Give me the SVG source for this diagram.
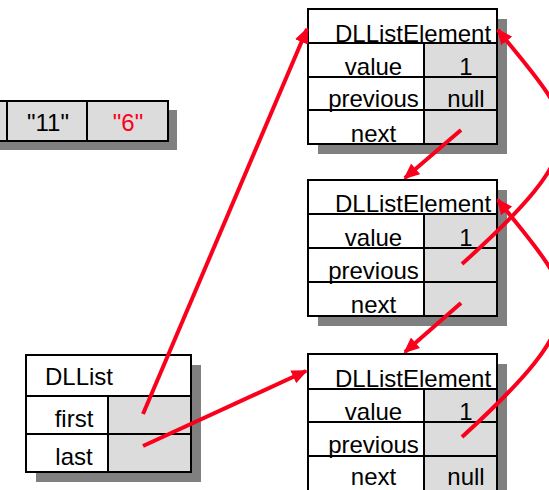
<svg xmlns="http://www.w3.org/2000/svg" width="549" height="490" viewBox="0 0 549 490">
  <style>
    .box{fill:#fff;stroke:#000;stroke-width:2}
    .cell{fill:#dcdcdc;stroke:#000;stroke-width:2}
    .shadow{fill:#808080}
    text{font-family:"Liberation Sans",Arial,Helvetica,sans-serif;font-size:24px;fill:#000}
    .mid{text-anchor:middle}
    .link{stroke:#fa001c;stroke-width:4;fill:none;marker-end:url(#head)}
  </style>
  <defs>
    <marker id="head" markerUnits="userSpaceOnUse" viewBox="0 0 16 14" markerWidth="16" markerHeight="14" refX="14" refY="7" orient="auto">
      <path d="M0,0 L16,7 L0,14 Z" fill="#fa001c"/>
    </marker>
  </defs>

  <!-- array fragment -->
  <g id="array">
    <rect class="shadow" x="-60" y="110" width="237" height="40"/>
    <rect class="cell" x="-73" y="101" width="80" height="40"/>
    <rect class="cell" x="7" y="101" width="80" height="40"/>
    <rect class="cell" x="87" y="101" width="81" height="40"/>
    <text class="mid" x="48" y="131">"11"</text>
    <text class="mid" x="128" y="131" style="fill:#fa001c">"6"</text>
  </g>

  <!-- list head -->
  <g id="dllist">
    <rect class="shadow" x="36" y="365" width="165" height="117"/>
    <rect class="box" x="26" y="355" width="165" height="117"/>
    <rect class="box" x="26" y="396" width="82" height="38"/>
    <rect class="box" x="26" y="434" width="82" height="38"/>
    <rect class="cell" x="108" y="396" width="83" height="38"/>
    <rect class="cell" x="108" y="434" width="83" height="38"/>
    <text x="45" y="385">DLList</text>
    <text class="mid" x="74" y="427">first</text>
    <text class="mid" x="74" y="465">last</text>
  </g>

  <!-- element 1 -->
  <g id="elem1">
    <rect class="shadow" x="318" y="19" width="189" height="135"/>
    <rect class="box" x="308" y="9" width="189" height="135"/>
    <rect class="box" x="308" y="43" width="116" height="34"/>
    <rect class="box" x="308" y="77" width="116" height="33"/>
    <rect class="box" x="308" y="110" width="116" height="34"/>
    <rect class="cell" x="424" y="43" width="73" height="34"/>
    <rect class="cell" x="424" y="77" width="73" height="33"/>
    <rect class="cell" x="424" y="110" width="73" height="34"/>
    <text x="335" y="42">DLListElement</text>
    <text class="mid" x="373.5" y="75">value</text>
    <text class="mid" x="373.5" y="107">previous</text>
    <text class="mid" x="373.5" y="142">next</text>
    <text class="mid" x="466" y="75">1</text>
    <text class="mid" x="466" y="107">null</text>
  </g>

  <!-- element 2 -->
  <g id="elem2">
    <rect class="shadow" x="318" y="190" width="189" height="136"/>
    <rect class="box" x="308" y="180" width="189" height="136"/>
    <rect class="box" x="308" y="214" width="116" height="34"/>
    <rect class="box" x="308" y="248" width="116" height="34"/>
    <rect class="box" x="308" y="282" width="116" height="34"/>
    <rect class="cell" x="424" y="214" width="73" height="34"/>
    <rect class="cell" x="424" y="248" width="73" height="34"/>
    <rect class="cell" x="424" y="282" width="73" height="34"/>
    <text x="335" y="212">DLListElement</text>
    <text class="mid" x="373.5" y="246">value</text>
    <text class="mid" x="373.5" y="279">previous</text>
    <text class="mid" x="373.5" y="313">next</text>
    <text class="mid" x="466" y="246">1</text>
  </g>

  <!-- element 3 (runs past the lower edge) -->
  <g id="elem3">
    <rect class="shadow" x="318" y="364" width="189" height="136"/>
    <rect class="box" x="308" y="354" width="189" height="140"/>
    <rect class="box" x="308" y="389" width="116" height="33"/>
    <rect class="box" x="308" y="422" width="116" height="34"/>
    <rect class="box" x="308" y="456" width="116" height="38"/>
    <rect class="cell" x="424" y="389" width="73" height="33"/>
    <rect class="cell" x="424" y="422" width="73" height="34"/>
    <rect class="cell" x="424" y="456" width="73" height="38"/>
    <text x="335" y="387">DLListElement</text>
    <text class="mid" x="373.5" y="420">value</text>
    <text class="mid" x="373.5" y="453">previous</text>
    <text class="mid" x="373.5" y="485">next</text>
    <text class="mid" x="466" y="420">1</text>
    <text class="mid" x="466" y="485">null</text>
  </g>

  <!-- references -->
  <g id="links">
    <path class="link" d="M143,414 L307,29"/>
    <path class="link" d="M143,446 L306,371"/>
    <path class="link" d="M461,130 L405,178"/>
    <path class="link" d="M461,303 L405,352"/>
    <path class="link" d="M462,264 C606,135 571,122 498,30"/>
    <path class="link" d="M462,437 C606,306 571,293 498,200"/>
  </g>
</svg>
